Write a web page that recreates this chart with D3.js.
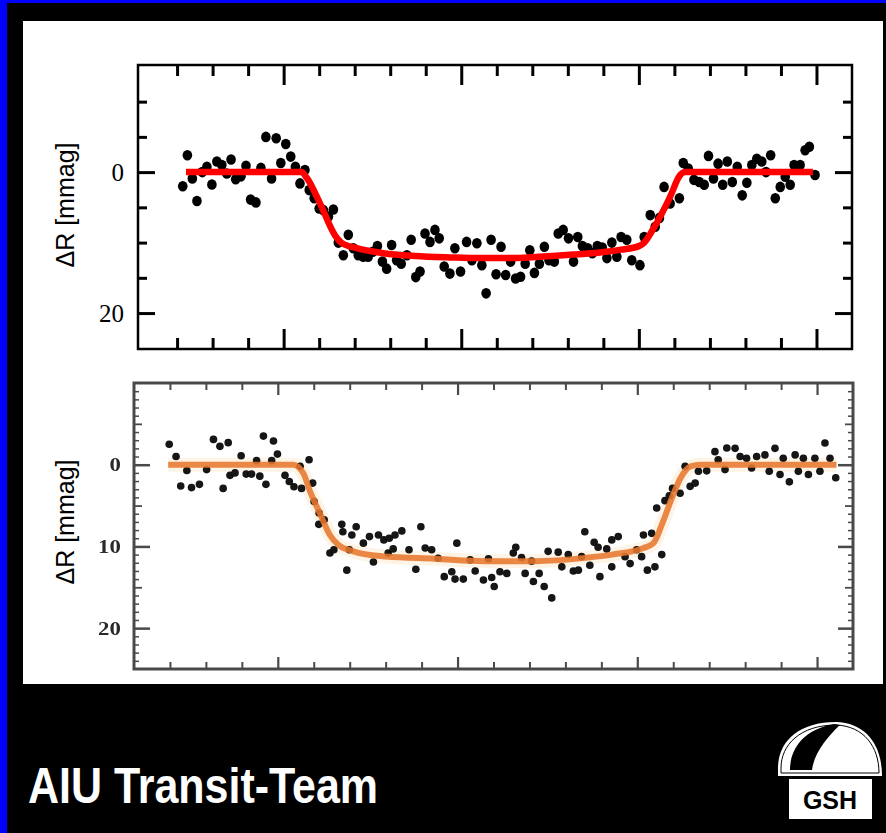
<!DOCTYPE html>
<html><head><meta charset="utf-8">
<script src="https://cdn.jsdelivr.net/npm/d3@7"></script>
<style>html,body{margin:0;padding:0;background:#000;overflow:hidden}</style>
</head><body>
<svg id="c" width="886" height="833"></svg>
<script>
// ---------- DATA (phase units vs. ΔR in mmag) ----------
const topPoints = [[-2.84,2.0],[-2.71,-2.4],[-2.57,0.9],[-2.44,4.1],[-2.29,0.0],[-2.16,-0.75],[-2.02,1.75],[-1.88,-1.5],[-1.74,-1.0],[-1.60,0.2],[-1.48,-1.8],[-1.35,1.0],[-1.20,0.6],[-1.06,-0.9],[-0.93,3.9],[-0.78,4.3],[-0.64,-0.6],[-0.50,-5.0],[-0.34,0.9],[-0.21,-4.8],[-0.08,-1.3],[0.06,-4.0],[0.20,-2.2],[0.33,-0.75],[0.46,1.6],[0.60,-0.3],[0.72,2.55],[0.86,3.7],[1.00,5.15],[1.12,5.4],[1.26,6.3],[1.40,5.3],[1.54,10.0],[1.68,11.8],[1.82,8.9],[1.96,10.8],[2.10,11.8],[2.24,12.0],[2.38,12.0],[2.51,11.3],[2.64,10.5],[2.78,12.7],[2.90,13.7],[3.04,10.35],[3.18,12.5],
[3.31,13.0],[3.47,11.8],[3.59,9.6],[3.72,14.9],[3.84,14.1],[3.98,8.7],[4.12,9.9],[4.26,8.2],[4.38,9.4],[4.52,13.4],[4.68,14.4],[4.82,10.8],[4.98,14.1],[5.15,9.9],[5.30,12.5],[5.44,10.1],[5.58,13.2],[5.70,17.2],[5.84,9.6],[5.98,14.5],[6.12,10.6],[6.25,14.6],[6.39,12.7],[6.53,15.1],[6.67,14.85],[6.80,13.0],[6.93,11.1],[7.06,14.3],[7.20,13.0],[7.34,10.6],[7.47,12.5],[7.62,12.7],[7.73,8.7],[7.87,8.2],[8.02,9.4],[8.16,12.7],[8.28,9.2],[8.41,10.5],[8.56,10.8],[8.69,11.5],[8.83,10.5],[8.97,10.7],[9.10,12.2],[9.24,10.0],[9.38,12.0],[9.50,9.2],
[9.66,9.6],[9.80,12.5],[10.03,13.2],[10.15,9.2],[10.32,6.1],[10.46,7.75],[10.58,6.5],[10.71,2.1],[10.88,4.45],[11.14,3.7],[11.25,-1.3],[11.39,-0.5],[11.55,1.1],[11.70,1.4],[11.84,1.8],[11.96,-2.3],[12.10,0.9],[12.23,-1.2],[12.36,1.8],[12.49,-1.5],[12.63,1.4],[12.77,-0.75],[12.91,3.3],[13.04,1.5],[13.18,-1.0],[13.32,-1.9],[13.46,-1.5],[13.58,0.0],[13.71,-2.4],[13.84,3.7],[13.98,2.1],[14.12,0.65],[14.26,1.8],[14.37,-1.0],[14.54,-1.0],[14.68,-3.1],[14.80,-3.6],[14.96,0.4]];

const topModel = [[-2.75,0],[0.5,0],[0.65,0.8],[1.02,4.4],[1.45,9.0],[1.62,10.0],[2.06,10.8],[2.8,11.5],[3.7,11.9],[4.7,12.1],[5.6,12.2],[6.3,12.2],[7.2,12.0],[8.15,11.7],[8.9,11.4],[9.5,11.0],[10.0,10.5],[10.15,10.0],[10.41,8.0],[10.88,3.5],[11.15,0.5],[11.3,0],[14.9,0]];

const botPoints = [[-3.02,-2.5],[-2.83,-1.0],[-2.70,2.6],[-2.53,0.7],[-2.40,2.8],[-2.18,2.4],[-1.98,0.6],[-1.79,-3.1],[-1.61,-2.25],[-1.38,-2.7],[-1.52,2.9],[-1.33,1.3],[-1.19,1.0],[-1.02,-1.1],[-0.88,1.15],[-0.73,1.15],[-0.59,-0.5],[-0.50,1.4],[-0.40,-3.5],[-0.33,2.4],[-0.12,-2.9],[-0.01,-1.3],[-0.17,-0.5],[0.20,1.3],[0.32,2.05],[0.45,2.7],[0.62,0.2],[0.66,2.9],[0.87,-0.6],[0.97,2.25],[1.01,4.5],[1.15,5.9],[1.29,6.75],[1.14,7.3],[1.45,10.8],[1.56,10.4],[1.78,7.3],[1.81,8.2],[1.92,12.9],[2.06,8.6],[2.18,7.6],[1.99,10.4],[2.38,9.6],[2.55,8.8],[2.66,11.9],[2.80,8.6],[2.95,9.2],[3.07,10.8],
[3.10,9.0],[3.26,8.6],[3.45,8.1],[3.21,10.3],[3.65,10.4],[3.84,12.8],[3.98,7.6],[4.10,10.2],[4.28,10.4],[4.46,11.45],[4.63,13.7],[4.84,13.1],[4.98,9.6],[4.93,14.0],[5.16,14.0],[5.35,11.65],[5.49,13.0],[5.72,14.1],[5.86,11.5],[5.95,13.8],[6.02,14.9],[6.18,13.1],[6.37,13.3],[6.55,10.8],[6.62,10.1],[6.78,11.35],[6.88,13.3],[7.06,11.8],[7.11,14.3],[7.27,13.3],[7.41,14.9],[7.52,10.6],[7.62,16.3],[7.80,10.7],[7.90,12.5],[8.08,11.0],[8.22,13.0],[8.36,12.9],[8.45,11.25],[8.54,8.2],[8.68,12.3],[8.80,9.5],[8.96,13.7],[8.91,10.1],[9.15,10.3],[9.29,9.2],[9.29,12.5],
[9.47,8.8],[9.66,11.25],[9.80,12.1],[9.98,10.4],[10.12,11.25],[10.17,8.6],[10.28,12.9],[10.40,8.4],[10.49,12.5],[10.68,11.0],[10.54,5.3],[10.77,4.4],[10.89,3.8],[10.98,2.9],[11.19,3.5],[11.47,2.65],[11.61,2.25],[11.33,0.2],[11.70,0.8],[11.93,0.75],[12.16,-1.6],[12.25,-0.6],[12.49,-2.05],[12.44,0.6],[12.72,-2.0],[12.86,-1.0],[13.04,-0.8],[13.18,0.4],[13.32,-1.0],[13.55,-1.2],[13.67,0.8],[13.83,-2.0],[13.97,1.2],[14.06,-0.8],[14.23,2.1],[14.39,-1.2],[14.48,0.8],[14.62,-0.8],[14.76,1.2],[14.94,-0.8],[15.08,0.8],[15.22,-2.65],[15.36,-0.8],[15.52,1.6]];

const botModel = [[-3.05,0],[0.43,0],[0.71,1.05],[0.9,3.3],[1.17,5.95],[1.45,8.6],[1.68,9.8],[2.1,10.6],[2.9,11.2],[4.37,11.5],[5.76,11.8],[7.15,11.8],[8.55,11.4],[9.3,11.0],[10.17,10.2],[10.45,9.6],[10.72,6.9],[10.96,4.1],[11.2,1.65],[11.48,0.2],[11.76,0],[15.54,0]];

const topYMajor = [0, 20];
const topYMinor = [-10, -5, 5, 10, 15];
const botYMajor = [0, 10, 20];
const xMajor = [0, 5, 10, 15];
const xMinor = [-3,-2,-1,1,2,3,4,6,7,8,9,11,12,13,14];
const yLabel = "ΔR [mmag]";
const title = "AIU Transit-Team";
const logoText = "GSH";

// ---------- DRAW ----------
const svg = d3.select("#c");
svg.append("rect").attr("width",886).attr("height",833).attr("fill","#000");
svg.append("rect").attr("x",0).attr("y",0).attr("width",886).attr("height",3).attr("fill","#0000ff");
svg.append("rect").attr("x",0).attr("y",0).attr("width",7).attr("height",833).attr("fill","#0000ff");
svg.append("rect").attr("x",23).attr("y",21).attr("width",860).attr("height",663).attr("fill","#fff");

const defs = svg.append("defs");
defs.append("filter").attr("id","soft").attr("x","-5%").attr("y","-5%").attr("width","110%").attr("height","110%")
  .append("feGaussianBlur").attr("stdDeviation",0.7);

// ===== TOP PANEL =====
const xT = d3.scaleLinear().domain([-4.1,16]).range([138,852]);
const yT = d3.scaleLinear().domain([-15.2,25.1]).range([65,349]);
const gT = svg.append("g");

function styleAxis(g, color, w){
  g.select(".domain").remove();
  g.selectAll(".tick line").attr("stroke",color).attr("stroke-width",w);
}
gT.append("g").attr("transform","translate(138,0)")
  .call(d3.axisLeft(yT).tickValues(topYMajor).tickSizeInner(-17).tickSizeOuter(0).tickPadding(14).tickFormat(d3.format("d")))
  .call(g=>{styleAxis(g,"#000",3); g.selectAll("text").attr("font-family","'Liberation Serif','Times New Roman',serif").attr("font-size",25).attr("fill","#000");});
gT.append("g").attr("transform","translate(138,0)")
  .call(d3.axisLeft(yT).tickValues(topYMinor).tickSizeInner(-9).tickSizeOuter(0).tickFormat(""))
  .call(g=>styleAxis(g,"#000",3));
gT.append("g").attr("transform","translate(852,0)")
  .call(d3.axisRight(yT).tickValues(topYMajor).tickSizeInner(-17).tickSizeOuter(0).tickFormat(""))
  .call(g=>styleAxis(g,"#000",3));
gT.append("g").attr("transform","translate(852,0)")
  .call(d3.axisRight(yT).tickValues(topYMinor).tickSizeInner(-9).tickSizeOuter(0).tickFormat(""))
  .call(g=>styleAxis(g,"#000",3));
[[65,d3.axisTop],[349,d3.axisBottom]].forEach(([yy,ax])=>{
  gT.append("g").attr("transform",`translate(0,${yy})`)
    .call(ax(xT).tickValues(xMajor).tickSizeInner(-20).tickSizeOuter(0).tickFormat(""))
    .call(g=>styleAxis(g,"#000",3));
  gT.append("g").attr("transform",`translate(0,${yy})`)
    .call(ax(xT).tickValues(xMinor).tickSizeInner(-11).tickSizeOuter(0).tickFormat(""))
    .call(g=>styleAxis(g,"#000",3));
});
gT.append("rect").attr("x",138).attr("y",65).attr("width",714).attr("height",284)
  .attr("fill","none").attr("stroke","#000").attr("stroke-width",2.5);

gT.append("g").selectAll("ellipse").data(topPoints).join("ellipse")
  .attr("cx",d=>xT(d[0])).attr("cy",d=>yT(d[1])).attr("rx",4.8).attr("ry",5.3).attr("fill","#000");
gT.append("path").datum(topModel)
  .attr("d",d3.line().x(d=>xT(d[0])).y(d=>yT(d[1])).curve(d3.curveMonotoneX))
  .attr("fill","none").attr("stroke","#ff0000").attr("stroke-width",6.5).attr("stroke-linejoin","round");

gT.append("text").attr("transform","translate(74,205) rotate(-90)")
  .attr("text-anchor","middle").attr("font-family","'Liberation Sans',Arial,sans-serif")
  .attr("font-size",25).attr("fill","#000").text(yLabel);

// ===== BOTTOM PANEL =====
const xB = d3.scaleLinear().domain([-4,16]).range([134,853]);
const yB = d3.scaleLinear().domain([-10,25]).range([383,669]);
const gB = svg.append("g");
const gBs = gB.append("g").attr("filter","url(#soft)");
const axc = "#4a4a4a";
const yAll = d3.range(-9,25);
const yMid = yAll.filter(v=>v%5===0 && v%10!==0);
const yMin = yAll.filter(v=>v%5!==0);
gBs.append("g").attr("transform","translate(134,0)")
  .call(d3.axisLeft(yB).tickValues(botYMajor).tickSizeInner(-16).tickSizeOuter(0).tickPadding(12).tickFormat(d3.format("d")))
  .call(g=>{styleAxis(g,axc,2.5); g.selectAll("text").attr("font-family","'Liberation Serif','Times New Roman',serif").attr("font-weight","bold").attr("font-size",19).attr("fill","#2a2a2a").attr("transform","scale(1.2,1)").attr("x",-11);});
gBs.append("g").attr("transform","translate(134,0)")
  .call(d3.axisLeft(yB).tickValues(yMid).tickSizeInner(-8).tickSizeOuter(0).tickFormat(""))
  .call(g=>styleAxis(g,axc,1.8));
gBs.append("g").attr("transform","translate(134,0)")
  .call(d3.axisLeft(yB).tickValues(yMin).tickSizeInner(-5).tickSizeOuter(0).tickFormat(""))
  .call(g=>styleAxis(g,axc,1.5));
gBs.append("g").attr("transform","translate(853,0)")
  .call(d3.axisRight(yB).tickValues(botYMajor).tickSizeInner(-15).tickSizeOuter(0).tickFormat(""))
  .call(g=>styleAxis(g,axc,2.5));
gBs.append("g").attr("transform","translate(853,0)")
  .call(d3.axisRight(yB).tickValues(yMid).tickSizeInner(-8).tickSizeOuter(0).tickFormat(""))
  .call(g=>styleAxis(g,axc,1.8));
gBs.append("g").attr("transform","translate(853,0)")
  .call(d3.axisRight(yB).tickValues(yMin).tickSizeInner(-5).tickSizeOuter(0).tickFormat(""))
  .call(g=>styleAxis(g,axc,1.5));
[[383,d3.axisTop],[669,d3.axisBottom]].forEach(([yy,ax])=>{
  gBs.append("g").attr("transform",`translate(0,${yy})`)
    .call(ax(xB).tickValues(xMajor).tickSizeInner(-12).tickSizeOuter(0).tickFormat(""))
    .call(g=>styleAxis(g,axc,2.2));
  gBs.append("g").attr("transform",`translate(0,${yy})`)
    .call(ax(xB).tickValues(xMinor).tickSizeInner(-7).tickSizeOuter(0).tickFormat(""))
    .call(g=>styleAxis(g,axc,2));
});
gBs.append("rect").attr("x",134).attr("y",383).attr("width",719).attr("height",286)
  .attr("fill","none").attr("stroke",axc).attr("stroke-width",3);

const lineB = d3.line().x(d=>xB(d[0])).y(d=>yB(d[1])).curve(d3.curveMonotoneX);
gBs.append("path").datum(botModel).attr("d",lineB)
  .attr("fill","none").attr("stroke","#fdf4e6").attr("stroke-width",14).attr("stroke-linejoin","round");
gBs.append("g").selectAll("circle").data(botPoints).join("circle")
  .attr("cx",d=>xB(d[0])).attr("cy",d=>yB(d[1])).attr("r",3.8).attr("fill","#121212");
gBs.append("path").datum(botModel).attr("d",lineB)
  .attr("fill","none").attr("stroke","#e8782e").attr("stroke-width",6).attr("stroke-opacity",0.88).attr("stroke-linejoin","round");

gB.append("text").attr("transform","translate(74,522) rotate(-90)")
  .attr("text-anchor","middle").attr("font-family","'Liberation Sans',Arial,sans-serif")
  .attr("font-size",25).attr("fill","#000").text(yLabel);

// ===== FOOTER =====
svg.append("text").attr("x",28).attr("y",803)
  .attr("font-family","'Liberation Sans Narrow','Arial Narrow','Liberation Sans',Arial,sans-serif")
  .attr("font-weight","bold").attr("font-size",50).attr("fill","#fff")
  .attr("textLength",350).attr("lengthAdjust","spacingAndGlyphs").text(title);

// logo
const logo = svg.append("g");
logo.append("path").attr("d","M778,776 L778,768 C778,742 798,722 836,722 C866,723 882,745 882,776 Z")
  .attr("fill","#fff");
logo.append("path").attr("d","M781,773 L781,768 C781,745 800,725 836,725 C864,726 879,747 879,773 Z")
  .attr("fill","none").attr("stroke","#000").attr("stroke-width",1);
logo.append("path").attr("d","M790,770 C790,750 802,730 834,724 L840,725 C826,738 814,754 812,770 Z")
  .attr("fill","#000");
logo.append("rect").attr("x",789).attr("y",779).attr("width",83).attr("height",40).attr("fill","#fff");
logo.append("text").attr("x",830).attr("y",809).attr("text-anchor","middle")
  .attr("font-family","'Liberation Sans Narrow','Liberation Sans',Arial,sans-serif")
  .attr("font-weight","bold").attr("font-size",25).attr("fill","#000").text(logoText);
</script>
</body></html>
